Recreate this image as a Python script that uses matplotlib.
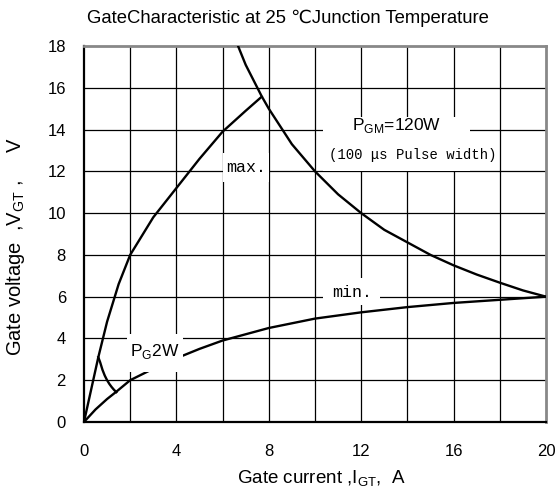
import matplotlib
matplotlib.use("Agg")
import matplotlib.pyplot as plt
from matplotlib.patches import Rectangle

# ---- data ----
max_x = [0, 0.3, 0.62, 1.0, 1.5, 2.0, 3.0, 4.0, 5.0, 6.0, 7.0, 7.69]
max_y = [0, 1.5, 3.1, 4.8, 6.6, 8.0, 9.8, 11.2, 12.6, 13.9, 14.9, 15.57]

min_x = [0, 0.5, 1.0, 1.4, 2.0, 3.0, 4.0, 5.0, 6.0, 8.0, 10.0, 12.0, 14.0, 16.0, 18.0, 20.0]
min_y = [0, 0.6, 1.1, 1.45, 2.0, 2.55, 3.05, 3.5, 3.9, 4.5, 4.95, 5.25, 5.5, 5.7, 5.85, 6.0]

pgm_x = [6.67, 7.0, 7.69, 8.0, 9.0, 10.0, 11.0, 12.0, 13.0, 14.0, 15.0, 16.0, 17.0, 18.0, 19.0, 20.0]
pgm_y = [18.0, 17.1, 15.6, 15.0, 13.3, 12.0, 10.9, 10.0, 9.2, 8.6, 8.0, 7.5, 7.06, 6.67, 6.3, 6.0]

pg_x = [0.62, 0.7, 0.8, 0.9, 1.0, 1.1, 1.2, 1.3, 1.4]
pg_y = [3.1, 2.86, 2.5, 2.22, 2.0, 1.82, 1.67, 1.54, 1.43]

x_ticks = [0, 4, 8, 12, 16, 20]
y_ticks = [0, 2, 4, 6, 8, 10, 12, 14, 16, 18]

SANS = ['Liberation Sans', 'DejaVu Sans']
MONO = ['Liberation Mono', 'DejaVu Sans Mono']

plt.rcParams['font.family'] = SANS
plt.rcParams['mathtext.fontset'] = 'custom'
plt.rcParams['mathtext.rm'] = 'Liberation Sans'

fig = plt.figure(figsize=(5.58, 4.95), dpi=100)
ax = fig.add_axes([0.1505, 0.1475, 0.828, 0.7595])
ax.set_xlim(0, 20)
ax.set_ylim(0, 18)

# grid
for gx in range(2, 20, 2):
    ax.axvline(gx, color='black', lw=0.9, zorder=1)
for gy in range(2, 18, 2):
    ax.axhline(gy, color='black', lw=0.9, zorder=1)

lw = 1.7
ax.plot(max_x, max_y, color='black', lw=lw, zorder=3)
ax.plot(min_x, min_y, color='black', lw=lw, zorder=3)
ax.plot(pgm_x, pgm_y, color='black', lw=lw, zorder=3)
ax.plot(pg_x, pg_y, color='black', lw=lw, zorder=3)

# white label boxes
ax.add_patch(Rectangle((10.35, 12.0), 6.35, 2.6, facecolor='white', edgecolor='none', zorder=2))
ax.add_patch(Rectangle((1.86, 2.4), 2.43, 1.8, facecolor='white', edgecolor='none', zorder=4))
ax.add_patch(Rectangle((6.0, 11.5), 2.0, 1.4, facecolor='white', edgecolor='none', zorder=2))
ax.add_patch(Rectangle((10.35, 5.6), 2.45, 1.3, facecolor='white', edgecolor='none', zorder=2))

ax.text(7.0, 12.2, 'max.', family=MONO, fontsize=12, ha='center', va='center', zorder=5)
ax.text(11.6, 6.2, 'min.', family=MONO, fontsize=12, ha='center', va='center', zorder=5)
ax.text(13.55, 14.2, r'P$_{\mathregular{GM}}$=120W', family=SANS,
        fontsize=12.5, ha='center', va='center', zorder=5)
ax.text(14.24, 12.77, '(100 \u03bcs Pulse width)', family=MONO, fontsize=10,
        ha='center', va='center', zorder=5)
ax.text(3.07, 3.36, r'P$_{\mathregular{G}}$2W', family=SANS,
        fontsize=12.5, ha='center', va='center', zorder=5)

ax.set_xticks(x_ticks)
ax.set_yticks(y_ticks)
ax.tick_params(length=0, labelsize=12)
ax.tick_params(axis='x', pad=16)
ax.tick_params(axis='y', pad=13)

for side in ['left', 'bottom']:
    ax.spines[side].set_color('black')
    ax.spines[side].set_linewidth(1.6)
for side in ['top', 'right']:
    ax.spines[side].set_color('#888888')
    ax.spines[side].set_linewidth(2.0)

fig.text(321 / 558, 1 - 479 / 495, r'Gate current ,I$_{\mathregular{GT}}$,  A',
         fontsize=13.5, ha='center', va='center')
fig.text(16 / 558, 1 - 246 / 495, r'Gate voltage  ,V$_{\mathregular{GT}}$ ,     V',
         fontsize=14.5, ha='center', va='center', rotation=90)

fig.text(0.516, 0.963, 'GateCharacteristic at 25 \u2103Junction Temperature',
         family=SANS, fontsize=13.3, ha='center', va='center')

fig.savefig('out.png', dpi=100)
